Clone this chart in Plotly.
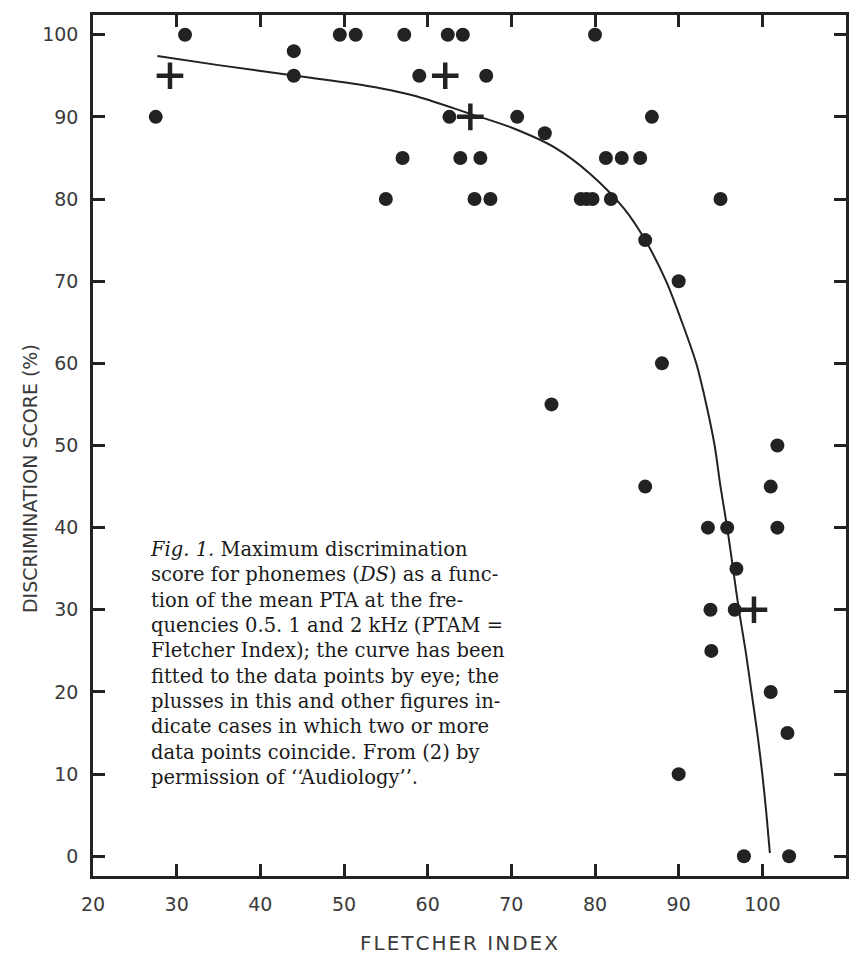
import plotly.graph_objects as go

# Individual observations (Fletcher index, discrimination score %)
dot_x = [31, 49.5, 51.4, 57.2, 62.4, 64.2, 80,
         44,
         44, 59, 67,
         27.5, 62.6, 70.7, 86.8,
         74,
         57, 63.9, 66.3, 81.3, 83.2, 85.4,
         55, 65.6, 67.5, 78.3, 79.0, 79.7, 81.9, 95,
         86, 90, 88, 74.8, 101.8,
         86, 101,
         93.5, 95.8, 101.8,
         96.9,
         93.8, 96.7,
         93.9, 101, 103, 90,
         97.8, 103.2]
dot_y = [100, 100, 100, 100, 100, 100, 100,
         98,
         95, 95, 95,
         90, 90, 90, 90,
         88,
         85, 85, 85, 85, 85, 85,
         80, 80, 80, 80, 80, 80, 80, 80,
         75, 70, 60, 55, 50,
         45, 45,
         40, 40, 40,
         35,
         30, 30,
         25, 20, 15, 10,
         0, 0]

# Coinciding observations (two or more cases)
plus_x = [29.2, 62.1, 65.1, 99.0]
plus_y = [95, 95, 90, 30]

# Curve fitted by eye
curve_x = [27.7, 35, 44.2, 52, 58.3, 65, 70, 75.3, 79.5, 83.5, 86, 88.5,
           90.4, 92.1, 93.3, 94.3, 95.0, 95.8, 96.5, 97.2, 98.0, 98.7,
           99.4, 100.0, 100.5, 100.9]
curve_y = [97.4, 96.3, 95.0, 93.9, 92.6, 90.4, 88.7, 86.2, 83.0, 78.8, 75, 70,
           65, 60, 55, 50, 45, 40, 35, 30, 25, 20,
           15, 10, 5, 0.4]

x_ticks = [20, 30, 40, 50, 60, 70, 80, 90, 100, 110]
y_ticks = [0, 10, 20, 30, 40, 50, 60, 70, 80, 90, 100]

caption_lines = [
    "<i>Fig. 1.</i> Maximum discrimination",
    "score for phonemes (<i>DS</i>) as a func-",
    "tion of the mean PTA at the fre-",
    "quencies 0.5. 1 and 2 kHz (PTAM =",
    "Fletcher Index); the curve has been",
    "fitted to the data points by eye; the",
    "plusses in this and other figures in-",
    "dicate cases in which two or more",
    "data points coincide. From (2) by",
    "permission of \u2018\u2018Audiology\u2019\u2019.",
]

INK = "#222222"
W, H = 861, 958
L, R, T, B = 93, 13, 13, 82
PW, PH = W - L - R, H - T - B


def px_to_paper(px, py):
    return (px - L) / PW, (H - B - py) / PH


fig = go.Figure()
fig.add_trace(go.Scatter(
    x=curve_x, y=curve_y, mode="lines",
    line=dict(color=INK, width=2, shape="spline", smoothing=0.8),
    hoverinfo="skip"))
fig.add_trace(go.Scatter(
    x=dot_x, y=dot_y, mode="markers",
    marker=dict(symbol="circle", size=14, color=INK)))
fig.add_trace(go.Scatter(
    x=plus_x, y=plus_y, mode="markers",
    marker=dict(symbol="cross-thin", size=19, color=INK,
                line=dict(width=4.5, color=INK))))

axis_common = dict(
    ticks="inside", ticklen=12, tickwidth=2.5, tickcolor=INK,
    showline=True, linewidth=2.5, linecolor=INK, mirror="ticks",
    showgrid=False, zeroline=False,
    tickfont=dict(family="DejaVu Sans", size=19, color="#3a3a3a"),
)

fig.update_layout(
    width=W, height=H,
    margin=dict(l=L, r=R, t=T, b=B),
    paper_bgcolor="white", plot_bgcolor="white",
    showlegend=False,
    xaxis=dict(range=[20, 110], tickvals=x_ticks, ticklabelstandoff=9,
               **axis_common),
    yaxis=dict(range=[-2.4, 102.4], tickvals=y_ticks, ticklabelstandoff=8,
               **axis_common),
)

annotations = []
xp, yp = px_to_paper(460, 943)
annotations.append(dict(
    text="\u200a".join("FLETCHER INDEX"), x=xp, y=yp, xref="paper", yref="paper",
    showarrow=False, xanchor="center", yanchor="middle",
    font=dict(family="DejaVu Sans", size=20, color="#3a3a3a")))
xp, yp = px_to_paper(30, 478)
annotations.append(dict(
    text="DISCRIMINATION SCORE (%)", x=xp, y=yp, xref="paper", yref="paper",
    showarrow=False, xanchor="center", yanchor="middle", textangle=-90,
    font=dict(family="DejaVu Sans", size=19, color="#3a3a3a")))

# Figure legend set as one left-aligned block inside the plot area
xp, yp = px_to_paper(148, 663)
annotations.append(dict(
    text="<br>".join(caption_lines), x=xp, y=yp, xref="paper", yref="paper",
    showarrow=False, xanchor="left", yanchor="middle", align="left",
    font=dict(family="DejaVu Serif", size=19.5, color="#1a1a1a")))

fig.update_layout(annotations=annotations)

fig.write_html("out.html")
